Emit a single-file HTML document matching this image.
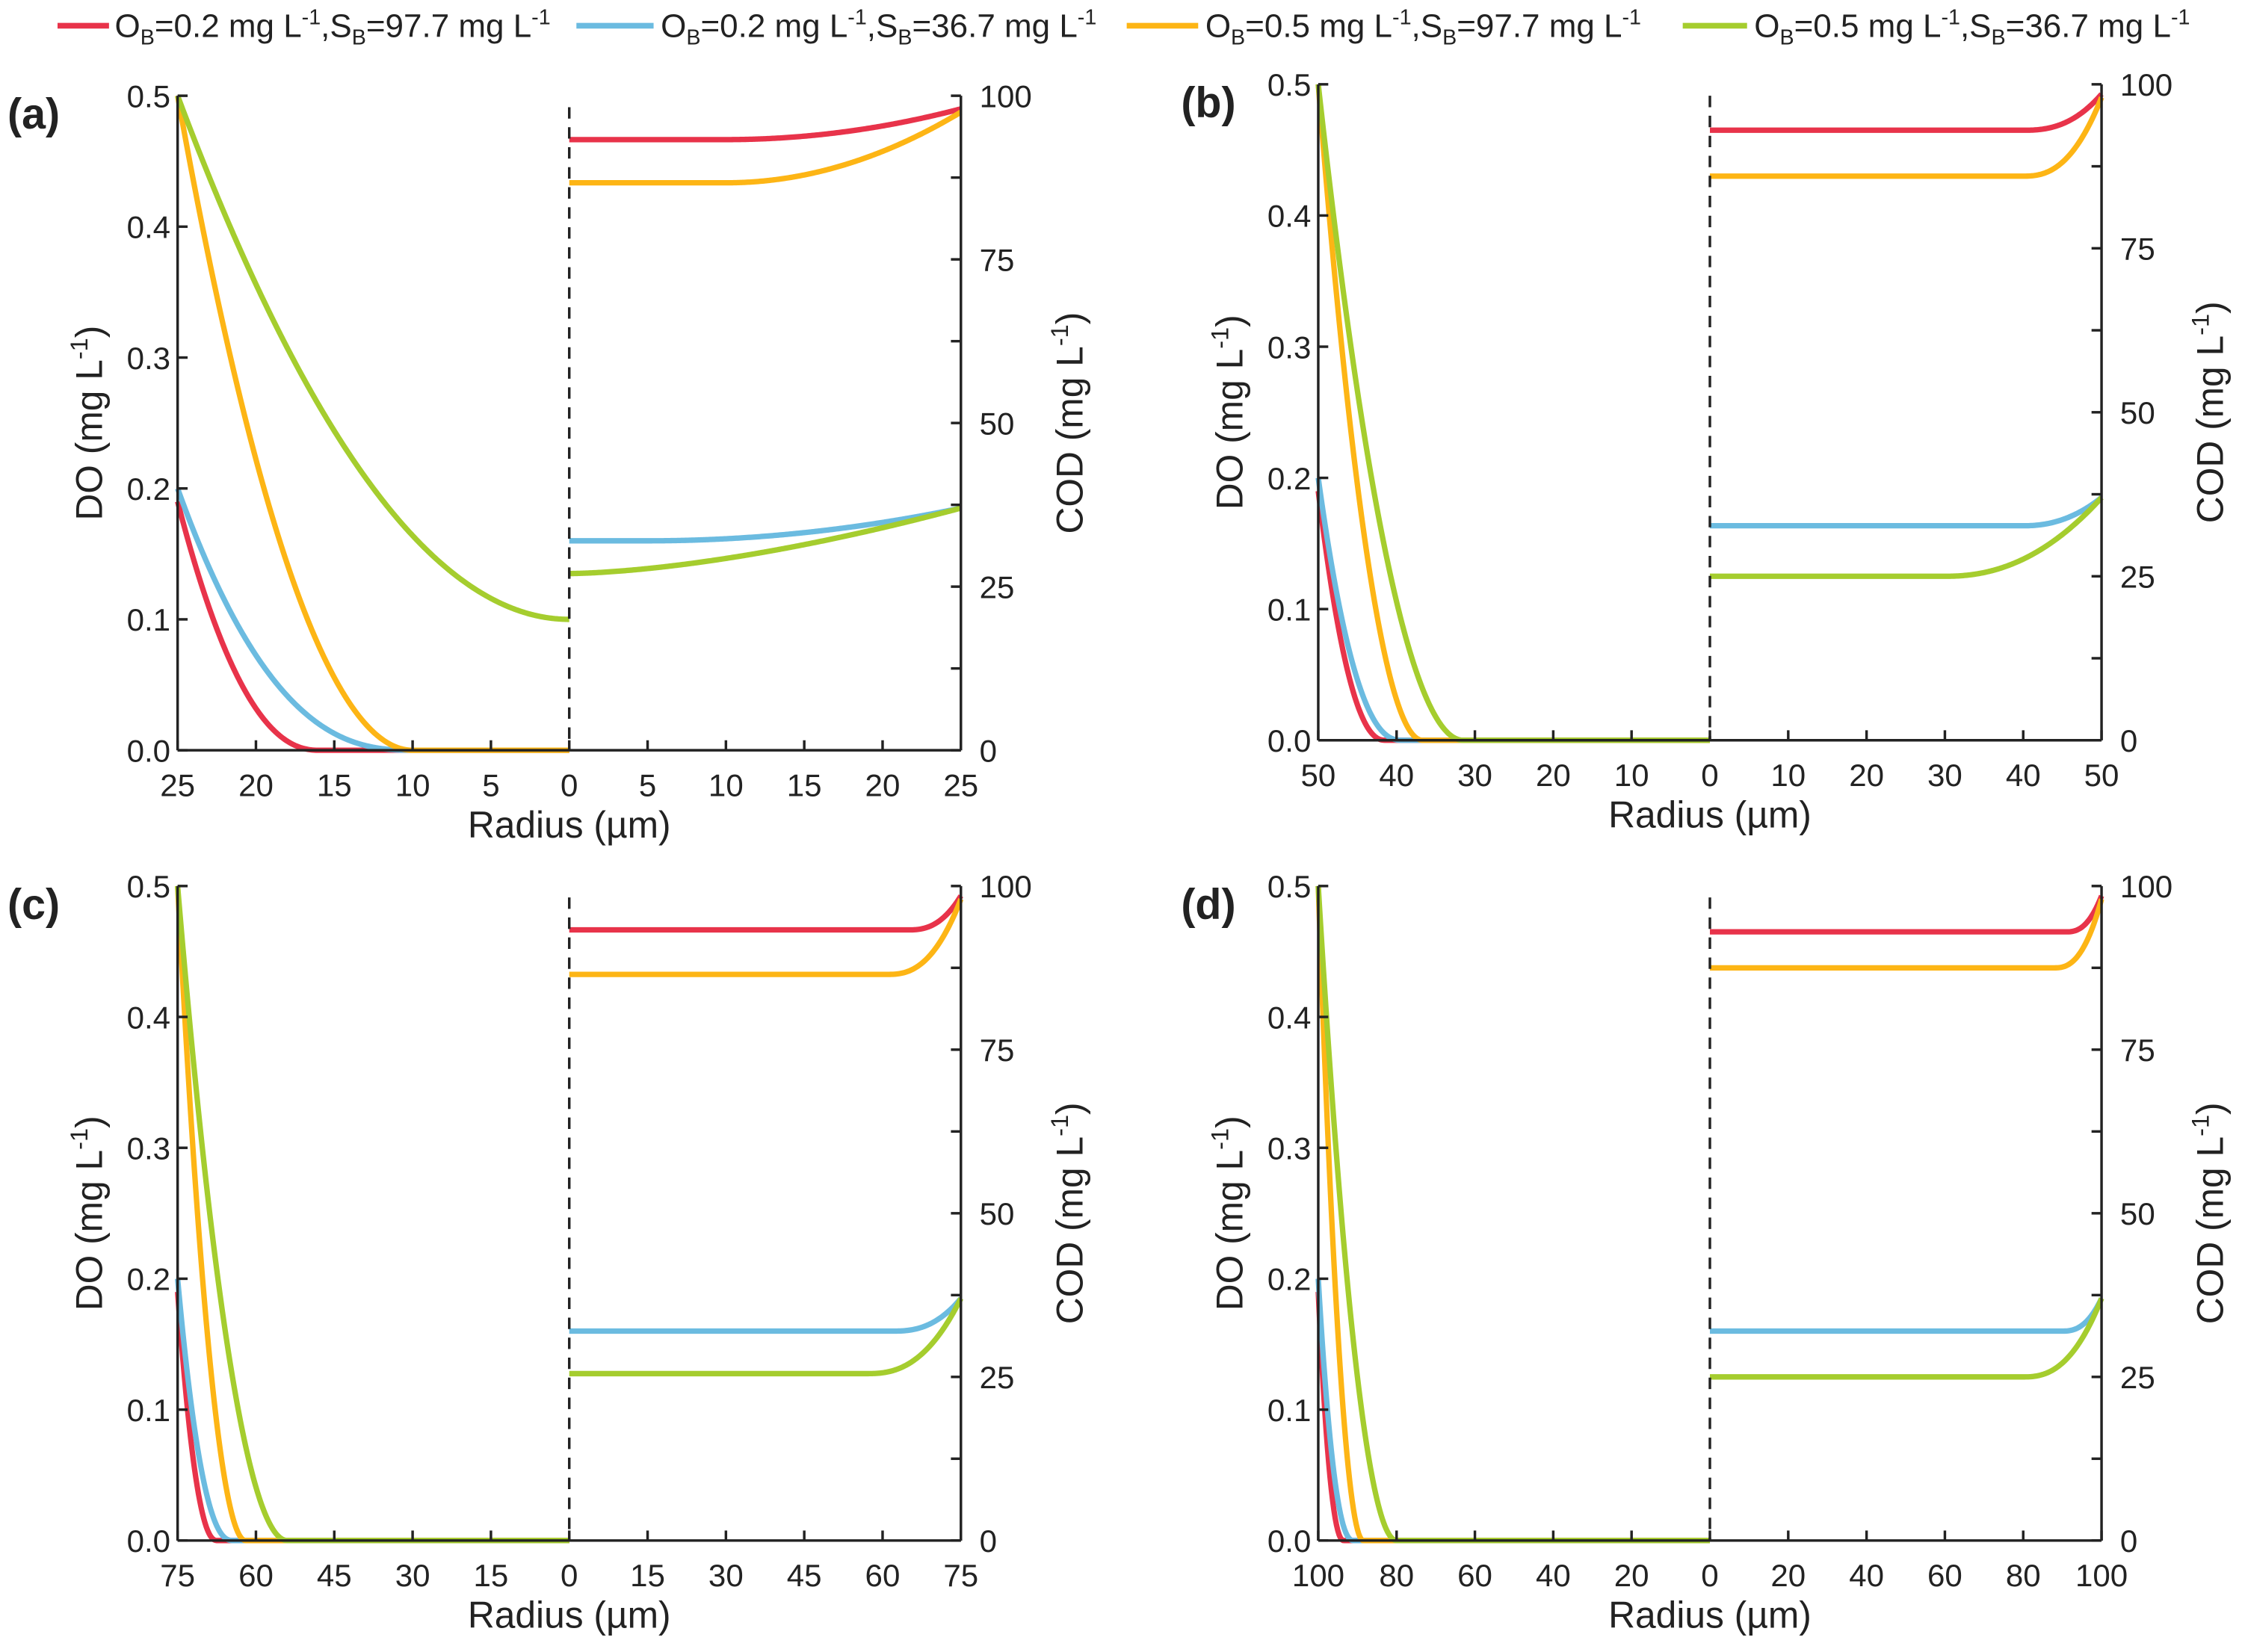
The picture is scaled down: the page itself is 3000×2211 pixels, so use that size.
<!DOCTYPE html>
<html><head><meta charset="utf-8"><style>
html,body{margin:0;padding:0;background:#fff;}
svg{display:block;}
text{font-family:"Liberation Sans",Arial,sans-serif;fill:#222;}
</style></head><body>
<svg id="s" width="3000" height="2211" viewBox="0 0 1568 1156" xmlns="http://www.w3.org/2000/svg">
<g id="leg" font-size="23">
<line x1="40" y1="18" x2="76" y2="18" stroke="#e8334a" stroke-width="4"/>
<text x="80" y="26">O<tspan font-size="15" dy="5">B</tspan><tspan dy="-5">=0.2 mg L</tspan><tspan font-size="15" dy="-9">-1</tspan><tspan dy="9">,S</tspan><tspan font-size="15" dy="5">B</tspan><tspan dy="-5">=97.7 mg L</tspan><tspan font-size="15" dy="-9">-1</tspan></text>
<line x1="403" y1="18" x2="457" y2="18" stroke="#6bbbe0" stroke-width="4"/>
<text x="462" y="26">O<tspan font-size="15" dy="5">B</tspan><tspan dy="-5">=0.2 mg L</tspan><tspan font-size="15" dy="-9">-1</tspan><tspan dy="9">,S</tspan><tspan font-size="15" dy="5">B</tspan><tspan dy="-5">=36.7 mg L</tspan><tspan font-size="15" dy="-9">-1</tspan></text>
<line x1="788" y1="18" x2="838" y2="18" stroke="#fdb515" stroke-width="4"/>
<text x="843" y="26">O<tspan font-size="15" dy="5">B</tspan><tspan dy="-5">=0.5 mg L</tspan><tspan font-size="15" dy="-9">-1</tspan><tspan dy="9">,S</tspan><tspan font-size="15" dy="5">B</tspan><tspan dy="-5">=97.7 mg L</tspan><tspan font-size="15" dy="-9">-1</tspan></text>
<line x1="1177" y1="18" x2="1222" y2="18" stroke="#a5cd2e" stroke-width="4"/>
<text x="1227" y="26">O<tspan font-size="15" dy="5">B</tspan><tspan dy="-5">=0.5 mg L</tspan><tspan font-size="15" dy="-9">-1</tspan><tspan dy="9">,S</tspan><tspan font-size="15" dy="5">B</tspan><tspan dy="-5">=36.7 mg L</tspan><tspan font-size="15" dy="-9">-1</tspan></text>
</g>
</svg>
<script>
const S=document.getElementById('s');const NS='http://www.w3.org/2000/svg';
function el(t,a,txt){const e=document.createElementNS(NS,t);for(const k in a)e.setAttribute(k,a[k]);if(txt!==undefined)e.textContent=txt;S.appendChild(e);return e;}
const C={r:'#e8334a',b:'#6bbbe0',o:'#fdb515',g:'#a5cd2e'};
const panels=[
 {lab:'(a)',lx:5,L:124,R:672,T:67,B:525,Rad:25,step:5,
  do:[['r',0.19,9,2.2],['b',0.2,15,2.5],['o',0.5,15,2]],green:true,
  cod:[['b',32,37,5,2],['g',27,37,0,1.6],['r',93.3,98,10,2],['o',86.7,97.5,10,2]]},
 {lab:'(b)',lx:826,L:922,R:1470,T:59,B:518,Rad:50,step:10,
  do:[['r',0.19,8.5,2.2],['b',0.2,10.6,2.3],['o',0.5,13.3,2],['g',0.5,18.5,2]],
  cod:[['b',32.7,37,40,2.2],['g',25,37,30,2.2],['r',93,98.5,40,2.5],['o',86,98,40,2.5]]},
 {lab:'(c)',lx:5,L:124,R:672,T:620,B:1078,Rad:75,step:15,
  do:[['r',0.19,7.5,2.2],['b',0.2,10.5,2.3],['o',0.5,13,2],['g',0.5,21,2]],
  cod:[['b',32,37,62,2.5],['g',25.5,37,57,2.5],['r',93.3,98.5,65,2.5],['o',86.5,98,61,2.5]]},
 {lab:'(d)',lx:826,L:922,R:1470,T:620,B:1078,Rad:100,step:20,
  do:[['r',0.19,6.5,2.2],['b',0.2,9,2.3],['o',0.5,11.5,2],['g',0.5,20,2]],
  cod:[['b',32,37,90,2.5],['g',25,37,80,2.5],['r',93,98.5,91,2.5],['o',87.5,98,88,2.5]]}];
panels.forEach(p=>{
 const M=(p.L+p.R)/2,W=M-p.L,H=p.B-p.T;
 const yd=v=>p.B-v/0.5*H, yc=v=>p.B-v/100*H;
 p.do.forEach(([c,y0,Ld,pw])=>{let d='';for(let i=0;i<=300;i++){const dd=p.Rad*i/300;const v=dd<Ld?y0*Math.pow(1-dd/Ld,pw):0;const x=p.L+dd/p.Rad*W;d+=(i?'L':'M')+x.toFixed(2)+' '+yd(v).toFixed(2);}
  el('path',{d,fill:'none',stroke:C[c],'stroke-width':3.8});});
 if(p.green){let d='';for(let i=0;i<=300;i++){const r=p.Rad*(1-i/300);const v=0.1+0.4*Math.pow(r/p.Rad,2);d+=(i?'L':'M')+(p.L+i/300*W).toFixed(2)+' '+yd(v).toFixed(2);}el('path',{d,fill:'none',stroke:C.g,'stroke-width':3.8});}
 p.cod.forEach(([c,b,e,r0,pw])=>{let d='';for(let i=0;i<=300;i++){const r=p.Rad*i/300;const v=b+(e-b)*(r>r0?Math.pow((r-r0)/(p.Rad-r0),pw):0);d+=(i?'L':'M')+(M+r/p.Rad*W).toFixed(2)+' '+yc(v).toFixed(2);}
  el('path',{d,fill:'none',stroke:C[c],'stroke-width':3.8});});
 el('line',{x1:p.L,y1:p.T,x2:p.L,y2:p.B,stroke:'#222','stroke-width':1.8});
 el('line',{x1:p.R,y1:p.T,x2:p.R,y2:p.B,stroke:'#222','stroke-width':1.8});
 el('line',{x1:p.L,y1:p.B,x2:p.R,y2:p.B,stroke:'#222','stroke-width':1.8});
 el('line',{x1:M,y1:p.T+8,x2:M,y2:p.B,stroke:'#222','stroke-width':1.8,'stroke-dasharray':'8,6'});
 for(let i=0;i<=5;i++){const y=yd(i*0.1);el('line',{x1:p.L,y1:y,x2:p.L+7,y2:y,stroke:'#222','stroke-width':1.8});
  el('text',{x:p.L-5,y:y+8,'font-size':22,'text-anchor':'end'},(i*0.1).toFixed(1));}
 for(let i=0;i<=8;i++){const y=yc(i*12.5);el('line',{x1:p.R-7,y1:y,x2:p.R,y2:y,stroke:'#222','stroke-width':1.8});
  if(i%2==0)el('text',{x:p.R+13,y:y+8,'font-size':22},String(i*12.5));}
 for(let i=0;i<=10;i++){const x=p.L+i/10*(p.R-p.L);const v=Math.abs(p.Rad-i*p.step);
  el('line',{x1:x,y1:p.B-7,x2:x,y2:p.B,stroke:'#222','stroke-width':1.8});
  el('text',{x:x,y:p.B+32,'font-size':22,'text-anchor':'middle'},String(v));}
 el('text',{x:M,y:p.B+61,'font-size':26,'text-anchor':'middle'},'Radius (µm)');
 el('text',{x:p.lx,y:p.T+23,'font-size':30,'font-weight':'bold'},p.lab);
 const t1=el('text',{x:0,y:0,'font-size':26,'text-anchor':'middle',transform:`translate(${p.L-53},${p.T+H/2}) rotate(-90)`});
 t1.innerHTML='DO (mg L<tspan font-size="17" dy="-10">-1</tspan><tspan dy="10">)</tspan>';
 const t2=el('text',{x:0,y:0,'font-size':26,'text-anchor':'middle',transform:`translate(${p.R+85},${p.T+H/2}) rotate(-90)`});
 t2.innerHTML='COD (mg L<tspan font-size="17" dy="-10">-1</tspan><tspan dy="10">)</tspan>';
});
</script>
</body></html>
